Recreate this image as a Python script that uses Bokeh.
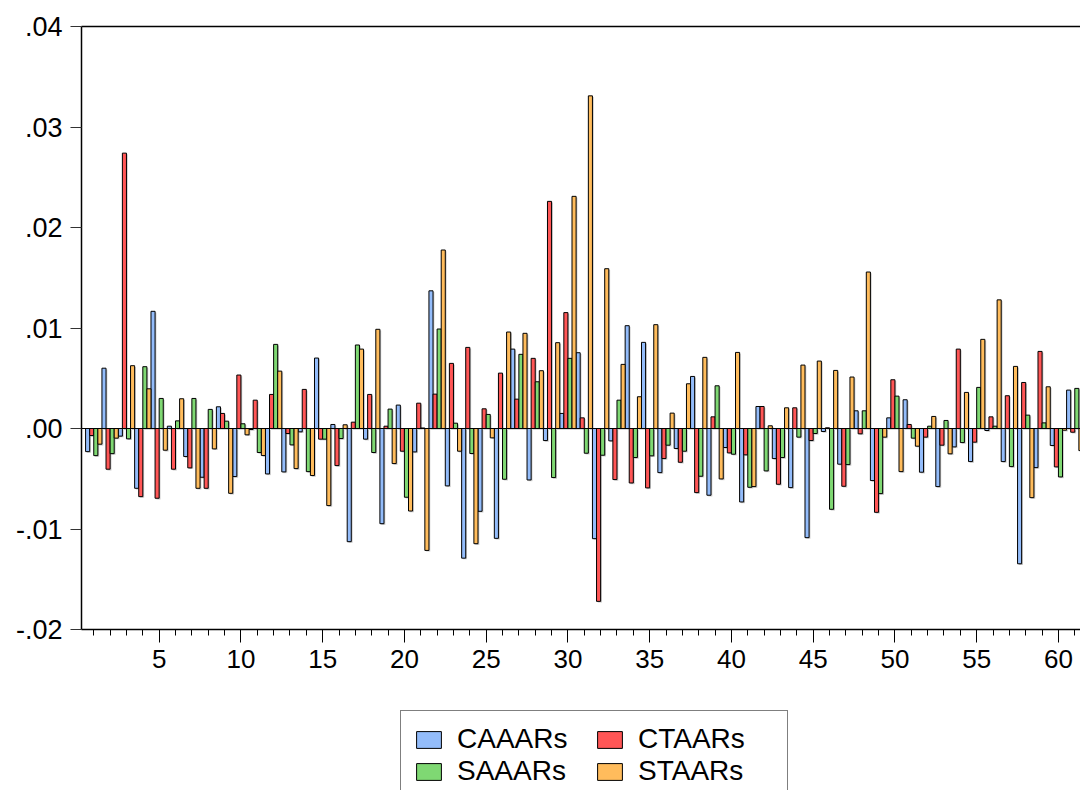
import numpy as np
from bokeh.plotting import figure
from bokeh.models import (ColumnDataSource, FixedTicker, Span, Legend, LegendItem,
                          LinearAxis, Range1d)
from bokeh.layouts import column
from bokeh.transform import dodge
from bokeh.embed import file_html
from bokeh.resources import INLINE

periods = list(range(1, 62))

# values in units of 0.001
caaars = [-2.3, 6.0, -0.76, -5.95, 11.66, 0.23, -2.79, -4.85, 2.16, -4.78,
          -0.1, -4.52, -4.32, -0.33, 7.01, 0.4, -11.26, -1.06, -9.47, 2.33,
          -2.33, 13.7, -5.71, -12.9, -8.24, -10.93, 7.9, -5.12, -1.2, 1.5,
          7.54, -10.96, -1.23, 10.23, 8.57, -4.39, -1.99, 5.18, -6.64, -1.89,
          -7.31, 2.19, -2.99, -5.88, -10.86, -0.3, -3.55, 1.76, -5.18, 1.06,
          2.86, -4.35, -5.78, -1.83, -3.29, -0.2, -3.29, -13.46, -3.89, -1.69,
          3.82]
ctaars = [-0.7, -4.05, 27.4, -6.78, -6.94, -4.05, -3.92, -5.95, 1.5, 5.32,
          2.82, 3.39, -0.5, 3.89, -1.06, -3.69, 0.63, 3.39, 0.23, -2.26,
          2.52, 3.42, 6.48, 8.07, 1.96, 5.51, 2.92, 6.98, 22.6, 11.53,
          1.06, -17.2, -5.08, -5.42, -5.91, -2.99, -3.36, -6.38, 1.16, -2.43,
          -2.62, 2.19, -5.55, 2.06, -1.2, 0.07, -5.75, -0.53, -8.34, 4.85,
          0.4, -0.86, -1.66, 7.9, -1.36, 1.16, 3.26, 4.58, 7.67, -3.82,
          -0.37]
saaars = [-2.7, -2.5, -1.03, 6.15, 2.99, 0.76, 2.99, 1.9, 0.73, 0.47,
          -2.39, 8.37, -1.63, -4.29, -1.06, -1.0, 8.31, -2.39, 1.93, -6.84,
          0.05, 9.9, 0.53, -2.49, 1.4, -5.05, 7.38, 4.65, -4.88, 6.98,
          -2.46, -2.66, 2.82, -2.89, -2.72, -1.66, -2.26, -4.75, 4.25, -2.56,
          -5.85, -4.22, -2.89, -0.86, -0.5, -8.04, -3.59, 1.76, -6.48, 3.22,
          -0.96, 0.23, 0.8, -1.4, 4.09, 0.23, -3.79, 1.33, 0.56, -4.82,
          3.99]
staars = [-1.56, -0.96, 6.25, 3.95, -2.16, 2.96, -5.95, -2.03, -6.45, -0.63,
          -2.69, 5.71, -3.99, -4.68, -7.67, 0.37, 7.9, 9.87, -3.49, -8.21,
          -12.13, 17.76, -2.26, -11.46, -0.93, 9.6, 9.47, 5.75, 8.54, 23.1,
          33.1, 15.9, 6.38, 3.16, 10.33, 1.53, 4.45, 7.08, -5.02, 7.57,
          -5.78, 0.27, 2.06, 6.31, 6.71, 5.78, 5.12, 15.57, -0.86, -4.29,
          -1.76, 1.2, -2.52, 3.59, 8.87, 12.8, 6.18, -6.88, 4.15, -0.17,
          -2.2]

series_names = ["CAAARs", "CTAARs", "SAAARs", "STAARs"]
series_vals = [caaars, ctaars, saaars, staars]
colors = ["#93BCFA", "#FF5656", "#7FD873", "#FFBC5C"]

y_ticks = [-0.02, -0.01, 0.0, 0.01, 0.02, 0.03, 0.04]
y_labels = ["-.02", "-.01", ".00", ".01", ".02", ".03", ".04"]
x_major = list(range(5, 61, 5))

FONT = "Liberation Sans"

data = {"x": periods}
for n, v in zip(series_names, series_vals):
    data[n] = list(np.array(v) / 1000.0)
    data[n + "_sh"] = list(np.array(v) / 1000.0 - 0.00012)
data["zero_sh"] = [-0.00012] * len(periods)
src = ColumnDataSource(data)

p = figure(width=1080, height=700, output_backend="svg", toolbar_location=None,
           x_range=Range1d(0.25, 61.35), y_range=Range1d(-0.02, 0.04),
           min_border_left=81, min_border_right=0, min_border_top=26,
           min_border_bottom=71)
p.outline_line_color = None
p.xgrid.visible = False
p.ygrid.visible = False
p.background_fill_color = "white"

W = 0.25
offsets = [-0.375, -0.125, 0.125, 0.375]

# subtle shadows
for n, off in zip(series_names, offsets):
    p.vbar(x=dodge("x", off + 0.08, range=p.x_range), width=W, top=n + "_sh",
           bottom="zero_sh", source=src, fill_color="#9a9a9a", fill_alpha=0.55,
           line_color=None)

for n, off, c in zip(series_names, offsets, colors):
    p.vbar(x=dodge("x", off, range=p.x_range), width=W, top=n, bottom=0,
           source=src, fill_color=c, line_color="black", line_width=1)

p.add_layout(Span(location=0, dimension="width", line_color="black", line_width=1))

# y axis
p.yaxis.ticker = FixedTicker(ticks=y_ticks)
p.yaxis.major_label_overrides = {t: l for t, l in zip(y_ticks, y_labels)}
p.yaxis.major_label_text_font = FONT
p.yaxis.major_label_text_font_size = "27px"
p.yaxis.major_label_text_color = "black"
p.yaxis.major_tick_out = 11
p.yaxis.major_tick_in = 0
p.yaxis.minor_tick_line_color = None
p.yaxis.axis_line_width = 1.5
p.yaxis.axis_line_color = "black"
p.yaxis.major_tick_line_color = "#333333"
p.yaxis.major_label_standoff = 8

# x axis
p.xaxis.ticker = FixedTicker(ticks=x_major, minor_ticks=periods)
p.xaxis.major_label_text_font = FONT
p.xaxis.major_label_text_font_size = "26px"
p.xaxis.major_label_text_color = "black"
p.xaxis.major_tick_out = 13
p.xaxis.major_tick_in = 0
p.xaxis.minor_tick_out = 6
p.xaxis.minor_tick_in = 0
p.xaxis.axis_line_width = 1.5
p.xaxis.axis_line_color = "black"
p.xaxis.major_tick_line_color = "black"
p.xaxis.minor_tick_line_color = "black"
p.xaxis.major_label_standoff = 7

# top border line
top_axis = LinearAxis(ticker=FixedTicker(ticks=[]), axis_line_color="black",
                      axis_line_width=1.5, major_tick_line_color=None,
                      minor_tick_line_color=None)
p.add_layout(top_axis, "above")

# legend panel (separate strip below the chart)
lg = figure(width=1080, height=90, output_backend="svg", toolbar_location=None,
            x_range=Range1d(0, 1), y_range=Range1d(0, 1),
            min_border_left=0, min_border_right=0, min_border_top=0,
            min_border_bottom=0)
lg.xaxis.visible = False
lg.yaxis.visible = False
lg.xgrid.visible = False
lg.ygrid.visible = False
lg.outline_line_color = None
offscreen = ColumnDataSource({"x": [-10.0], "y": [-10.0]})
leg_renderers = {}
for n, c in zip(series_names, colors):
    leg_renderers[n] = lg.vbar(x="x", top="y", width=0.1, source=offscreen,
                               fill_color=c, line_color="black", line_width=1)
order = ["CAAARs", "SAAARs", "CTAARs", "STAARs"]  # column-major fill
items = [LegendItem(label=n, renderers=[leg_renderers[n]]) for n in order]
legend = Legend(items=items, ncols=2, location=(319, -10),
                label_text_font=FONT, label_text_font_size="28px",
                label_text_color="black", glyph_width=31, glyph_height=21,
                label_width=137, label_standoff=13, spacing=0, padding=12,
                margin=0, border_line_color="black", border_line_width=1.5,
                background_fill_color="white", background_fill_alpha=1.0)
lg.add_layout(legend)

layout = column(p, lg, spacing=0)
open("out.html", "w").write(file_html(layout, INLINE))
